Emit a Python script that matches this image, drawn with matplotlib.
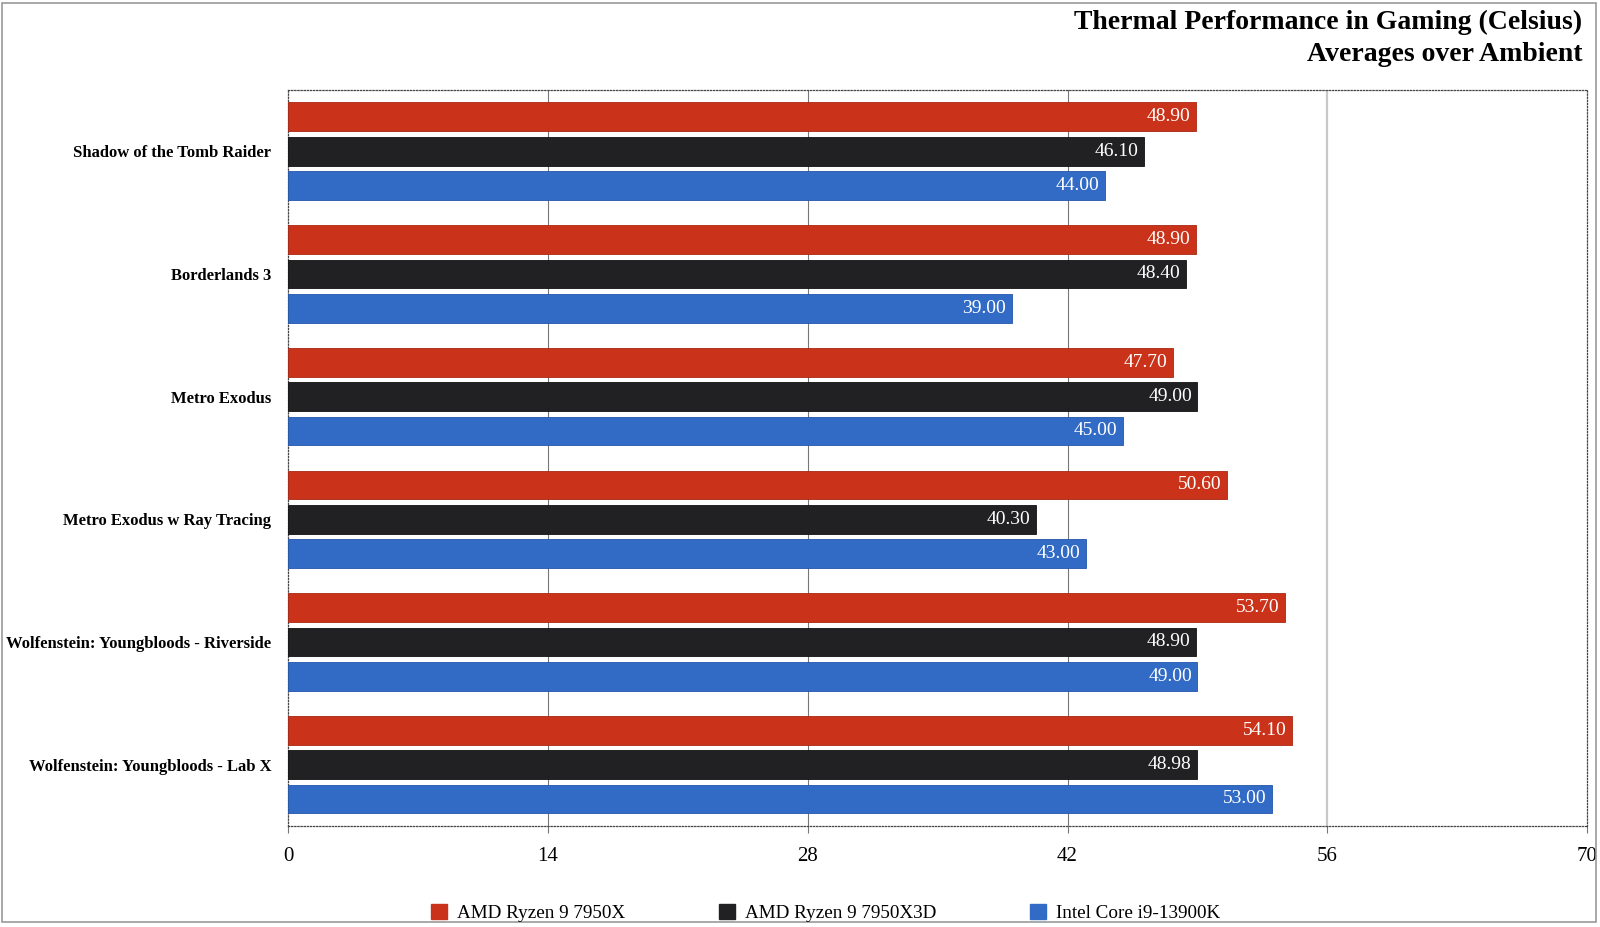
import matplotlib
matplotlib.use('Agg')
import matplotlib.pyplot as plt
import numpy as np
from matplotlib.patches import Patch, Rectangle

# data
games = ['Shadow of the Tomb Raider', 'Borderlands 3', 'Metro Exodus',
         'Metro Exodus w Ray Tracing', 'Wolfenstein: Youngbloods - Riverside',
         'Wolfenstein: Youngbloods - Lab X']
series_names = ['AMD Ryzen 9 7950X', 'AMD Ryzen 9 7950X3D', 'Intel Core i9-13900K']
r7950x = [48.90, 48.90, 47.70, 50.60, 53.70, 54.10]
r7950x3d = [46.10, 48.40, 49.00, 40.30, 48.90, 48.98]
i13900k = [44.00, 39.00, 45.00, 43.00, 49.00, 53.00]
x_ticks = [0, 14, 28, 42, 56, 70]

COLORS = ['#CA331A', '#212124', '#316BC5']
EDGES = ['#A82814', '#111111', '#2356A8']
FONT = 'Liberation Serif'

fig = plt.figure(figsize=(16, 9.27), dpi=100, facecolor='white')
ax = fig.add_axes([0.18, 0.109, 0.812, 0.794])

# outer frame of the picture
fig.patches.append(Rectangle((0.0015, 0.005), 0.996, 0.992, transform=fig.transFigure,
                             fill=False, edgecolor='#9a9a9a', linewidth=1.2))

y = np.arange(len(games))
offsets = [-0.28, 0.0, 0.28]
for vals, off, col, ec in zip([r7950x, r7950x3d, i13900k], offsets, COLORS, EDGES):
    bars = ax.barh(y + off, vals, height=0.235, color=col, edgecolor=ec,
                   linewidth=0.6, zorder=3)
    for bar, v in zip(bars, vals):
        ax.annotate(f'{v:.2f}', xy=(v, bar.get_y() + bar.get_height() / 2),
                    xytext=(-4, 0), textcoords='offset points',
                    ha='right', va='center', color='white',
                    fontsize=14, family=FONT, zorder=4)

ax.set_xlim(0, 70)
ax.set_ylim(len(games) - 0.5, -0.5)
ax.set_xticks(x_ticks)
ax.set_xticklabels([str(t) for t in x_ticks], fontsize=15, family=FONT)
ax.set_yticks(y)
ax.set_yticklabels(games, fontsize=12, family=FONT, fontweight='bold')
ax.tick_params(axis='y', length=0, pad=12)
ax.tick_params(axis='x', length=5, color='#777777', width=0.8, pad=10)

ax.grid(axis='x', color='#777777', linewidth=0.8, zorder=0)
gl = ax.xaxis.get_gridlines()
gl[4].set_color('#c8c8c8')
gl[4].set_linewidth(1.6)
gl[0].set_visible(False)
gl[5].set_visible(False)

for s in ax.spines.values():
    s.set_linestyle((0, (1, 1.5)))
    s.set_color('#444444')
    s.set_linewidth(0.9)

fig.text(0.989, 0.976, 'Thermal Performance in Gaming (Celsius)', ha='right', va='center',
         fontsize=20, fontweight='bold', family=FONT)
fig.text(0.989, 0.941, 'Averages over Ambient', ha='right', va='center',
         fontsize=20, fontweight='bold', family=FONT)

handles = [Patch(facecolor=c, edgecolor=c) for c in COLORS]
fig.legend(handles, series_names, loc='center', bbox_to_anchor=(0.516, 0.015), ncol=3,
           frameon=False, prop={'family': FONT, 'size': 13.8},
           handlelength=0.85, handleheight=0.85, handletextpad=0.5, columnspacing=4.9)

fig.savefig('out.png', dpi=100, facecolor='white')
